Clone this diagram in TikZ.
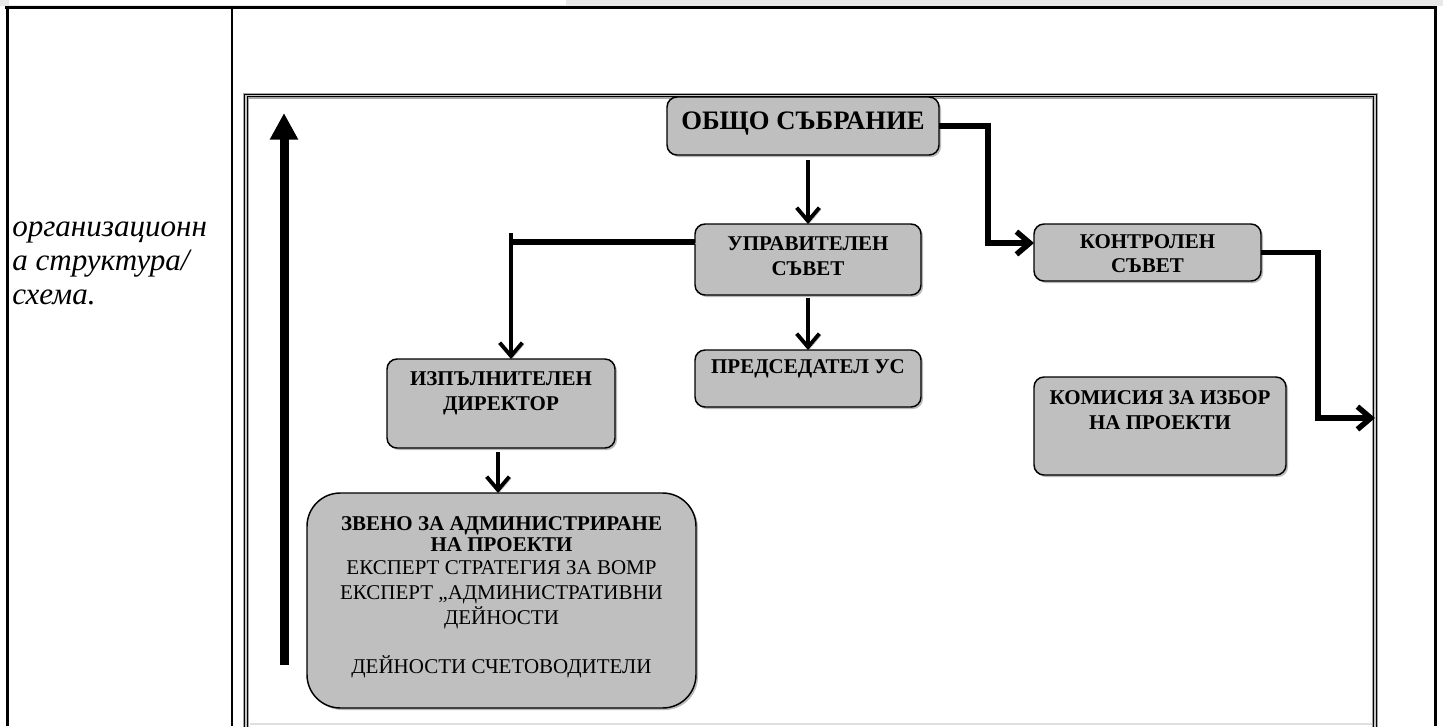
\documentclass[tikz,border=0pt]{standalone}
\usepackage{fontspec}
\setmainfont{Liberation Serif}
\usetikzlibrary{arrows.meta,shadows,calc}
\definecolor{boxgrey}{RGB}{191,191,191}
\definecolor{stripgrey}{RGB}{232,232,232}
\begin{document}
\begin{tikzpicture}[x=0.75pt,y=-0.75pt,
  box/.style={draw=black, line width=1.1pt, fill=boxgrey, rounded corners=7.5pt,
    inner sep=0pt, outer sep=0pt,
    drop shadow={shadow xshift=1.5pt, shadow yshift=-1.5pt, fill=black!45, opacity=0.6}},
  lab/.style={font=\fontsize{15.75}{18.4}\selectfont\bfseries, align=center, inner sep=0pt},
  biglab/.style={font=\fontsize{20}{24}\selectfont\bfseries, align=center, inner sep=0pt},
  lefttxt/.style={font=\fontsize{23.3}{27}\selectfont\itshape, inner sep=0pt},
  thickc/.style={line width=4.1pt, line join=miter},
  thinc/.style={line width=2.9pt},
  barb/.style={-{Straight Barb[length=10pt,width=17pt]}},
  cshadow/.style={preaction={draw=black!30, transform canvas={xshift=1.3pt, yshift=-1.3pt}}},
  bigarrow/.style={line width=6.75pt, -{Triangle[length=20pt,width=20pt]}},
  tableline/.style={line width=2.25pt},
  framebox/.style={draw=black, double=gray!45, line width=0.9pt, double distance=0.9pt,
    inner sep=0pt, outer sep=0pt,
    preaction={draw=gray!70, line width=4.5pt}}
]
\useasboundingbox (0,0) rectangle (1443,726);
\clip (0,0) rectangle (1443,726);

% top strip
\fill[stripgrey] (0,0) rectangle (1443,6);
\fill[white] (9,0) rectangle (566,5);

% table lines
\draw[tableline] (5,7.5) -- (1437,7.5);
\draw[tableline] (7,6.5) -- (7,726);
\draw[line width=1.6pt] (232,8) -- (232,726);
\draw[tableline] (1435,6.5) -- (1435,726);

% left column text
\node[lefttxt, anchor=base west] (lt1) at (12,236) {организационн};
\node[lefttxt, anchor=base west] (lt2) at (12,270) {а структура/};
\node[lefttxt, anchor=base west] (lt3) at (12,304) {схема.};

% inner frame
\node[framebox, anchor=north west, minimum width=846.75pt, minimum height=520pt] (frame) at (246,95.5) {};
\draw[gray!25, line width=0.8pt] (250,724) -- (1372,724);

% big upward arrow
\coordinate (bigA) at (284,665);
\coordinate (bigB) at (284,113);
\draw[bigarrow] (bigA) -- (bigB);

% boxes
\node[box, minimum width=204pt, minimum height=43.5pt,
  label={[biglab, yshift=1.5pt]center:ОБЩО СЪБРАНИЕ}] (obsh) at (803,126) {};
\node[box, minimum width=169.5pt, minimum height=53.25pt,
  label={[lab, yshift=2.6pt]center:{УПРАВИТЕЛЕН\\СЪВЕТ}}] (upr) at (808,259.5) {};
\node[box, minimum width=170.25pt, minimum height=42.75pt,
  label={[lab, yshift=-0.8pt]center:{КОНТРОЛЕН\\СЪВЕТ}}] (kontr) at (1147.5,252.5) {};
\node[box, minimum width=189pt, minimum height=73.5pt,
  label={[lab, yshift=12pt]center:{КОМИСИЯ ЗА ИЗБОР\\НА ПРОЕКТИ}}] (komis) at (1160,426) {};
\node[box, minimum width=169.5pt, minimum height=42.75pt,
  label={[lab, yshift=7.3pt]center:{ПРЕДСЕДАТЕЛ УС}}] (pred) at (808,378.5) {};
\node[box, minimum width=171pt, minimum height=66.75pt,
  label={[lab, yshift=7.5pt]center:{ИЗПЪЛНИТЕЛЕН\\ДИРЕКТОР}}] (izp) at (501,403.5) {};
\node[box, rounded corners=25pt, minimum width=291.75pt, minimum height=161.25pt,
  label={[lab, font=\fontsize{15.75}{18.8}\selectfont, yshift=2.5pt]center:{\textbf{ЗВЕНО ЗА АДМИНИСТРИРАНЕ}\\[-2.6pt]\textbf{НА ПРОЕКТИ}\\[-1.6pt]ЕКСПЕРТ СТРАТЕГИЯ ЗА ВОМР\\ЕКСПЕРТ „АДМИНИСТРАТИВНИ\\ДЕЙНОСТИ\\[18pt]ДЕЙНОСТИ СЧЕТОВОДИТЕЛИ}}] (zveno) at (501.5,600.5) {};

% connectors
\coordinate (jA) at (988,243);
\coordinate (jB) at (511,242);
\coordinate (jC) at (1318,418);

\draw[thinc, barb, cshadow] ($(obsh.south -| upr.north)+(0,5)$) -- (upr.north);
\draw[thickc, barb, cshadow] (obsh.east) -| (jA) -- (jA -| kontr.west);
\draw[thickc, cshadow] (upr.west |- jB) -- (jB);
\draw[thinc, barb, cshadow] ($(jB)+(0,-9)$) -- (jB |- izp.north);
\draw[thinc, barb, cshadow] ($(upr.south)+(0,3)$) -- (pred.north);
\draw[thinc, barb, cshadow] ($(izp.south)+(-3,4)$) -- ($(izp.south |- zveno.north)+(-3,0)$);
\draw[thickc, barb, cshadow] (kontr.east) -| (jC) -- (jC -| frame.east);
\end{tikzpicture}
\end{document}
